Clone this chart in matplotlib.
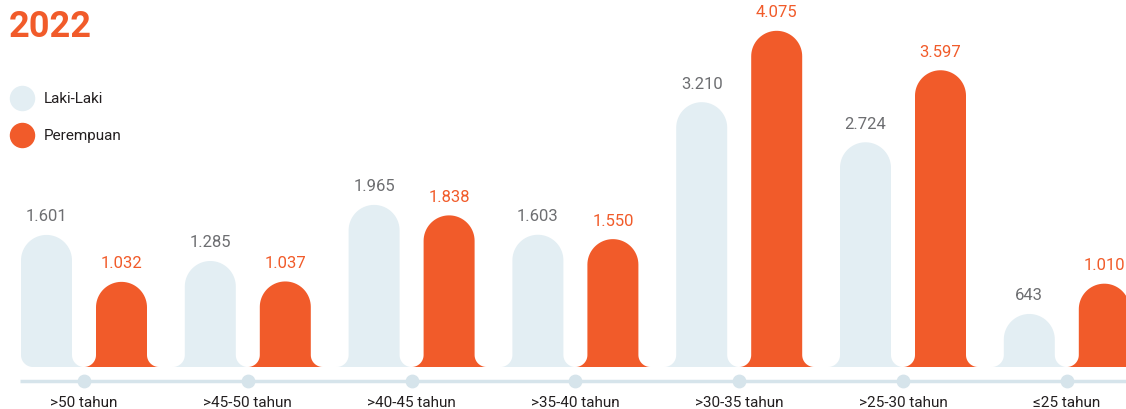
import numpy as np
import matplotlib.pyplot as plt
from matplotlib.patches import Polygon

plt.rcParams['font.family'] = ['Roboto', 'DejaVu Sans']

# data
categories = ['>50 tahun', '>45-50 tahun', '>40-45 tahun', '>35-40 tahun',
              '>30-35 tahun', '>25-30 tahun', '\u226425 tahun']
laki = [1601, 1285, 1965, 1603, 3210, 2724, 643]
perempuan = [1032, 1037, 1838, 1550, 4075, 3597, 1010]

LIGHT = '#E3EEF3'
ORANGE = '#F15B2A'
GREY = '#6D6E71'
DARK = '#231F20'
AXIS = '#D6E4EB'

W, H = 1126, 410
fig = plt.figure(figsize=(W / 100, H / 100), dpi=100)
ax = fig.add_axes([0, 0, 1, 1])
ax.axis('off')

# pixel scales
px_x = 163.8      # px per category
px_y = 0.0825     # px per person
x_first = 84      # px of first tick
base = 42         # px of baseline from bottom
ax.set_xlim(-x_first / px_x, (W - x_first) / px_x)
ax.set_ylim(-base / px_y, (H - base) / px_y)

bw = 51 / px_x
off = 37.5 / px_x
rx, ry = 25.5 / px_x, 25.5 / px_y
fx, fy = 12 / px_x, 12 / px_y


def bar_shape(xc, h, left_convex=False):
    x0, x1 = xc - bw / 2, xc + bw / 2
    pts = []
    if left_convex:
        t = np.linspace(-np.pi / 2, -np.pi, 20)
        pts += list(zip(x0 + fx + fx * np.cos(t), fy + fy * np.sin(t)))
    else:
        t = np.linspace(-np.pi / 2, 0, 20)
        pts += list(zip(x0 - fx + fx * np.cos(t), fy + fy * np.sin(t)))
    t = np.linspace(np.pi, 0, 40)
    pts += list(zip(xc + rx * np.cos(t), h - ry + ry * np.sin(t)))
    t = np.linspace(np.pi, 1.5 * np.pi, 20)
    pts += list(zip(x1 + fx + fx * np.cos(t), fy + fy * np.sin(t)))
    return pts


def fmt(v):
    return f'{v:,}'.replace(',', '.')


x = np.arange(len(categories))
for i in x:
    xl, xo = i - off, i + off
    ax.add_patch(Polygon(bar_shape(xl, laki[i], left_convex=(i == 0)),
                         closed=True, fc=LIGHT, ec='none'))
    ax.add_patch(Polygon(bar_shape(xo, perempuan[i]),
                         closed=True, fc=ORANGE, ec='none'))
    ax.text(xl, laki[i] + 19 / px_y, fmt(laki[i]), color=GREY,
            fontsize=12, ha='center', va='center')
    ax.text(xo, perempuan[i] + 19 / px_y, fmt(perempuan[i]), color=ORANGE,
            fontsize=12, ha='center', va='center')

# axis line with dots
y_axis = -14 / px_y
ax.plot([(20 - x_first) / px_x, (W - x_first) / px_x], [y_axis, y_axis],
        color=AXIS, lw=2.5, solid_capstyle='butt')
ax.scatter(x, [y_axis] * len(x), s=80, color=AXIS, zorder=3)
for i, c in enumerate(categories):
    ax.text(i, -35 / px_y, c, color=DARK, fontsize=11, ha='center', va='center')

# title and legend
fig.text(9 / W, 1 - 27 / H, '2022', color=ORANGE, fontsize=26,
         fontweight='bold', ha='left', va='center')
for yy, lab, col in [(99, 'Laki-Laki', LIGHT), (136, 'Perempuan', ORANGE)]:
    ax.scatter([(22 - x_first) / px_x], [(H - yy - base) / px_y], s=300,
               color=col, zorder=3)
    fig.text(44 / W, 1 - yy / H, lab, color=DARK, fontsize=11,
             ha='left', va='center')

fig.savefig('out.png', dpi=100)
